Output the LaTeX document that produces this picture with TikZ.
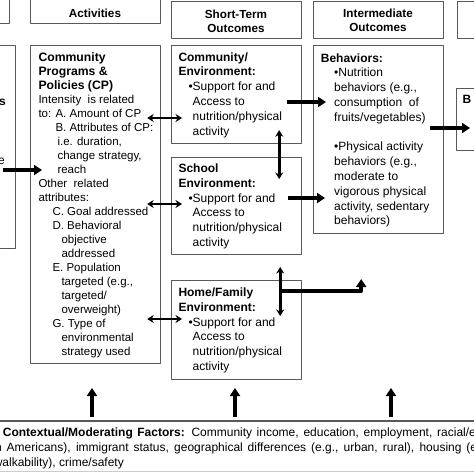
\documentclass[tikz,border=0pt]{standalone}
\usepackage{fontspec}
\setmainfont{Liberation Sans}
\usetikzlibrary{arrows.meta}
\newcommand{\boxlines}[2][l]{\begin{tabular}[t]{@{}#1@{}}#2\end{tabular}}
\newcommand{\cphead}[1]{{\fontsize{12.2}{14}\selectfont\bfseries #1}}
\begin{document}
\begin{tikzpicture}[x=1pt,y=-1pt,line join=round,
	box/.style={draw=black!65,line width=1.2pt,anchor=north west,inner sep=0pt},
	txt/.style={anchor=base west,inner sep=0pt,font=\fontsize{12}{14.8}\selectfont},
	cptxt/.style={txt,font=\fontsize{11.5}{14}\selectfont},
	hdr/.style={anchor=base,inner sep=0pt,font=\fontsize{11.7}{14.4}\selectfont\bfseries},
	bigarrow/.style={line width=3.6pt,-{Triangle[length=8pt,width=10pt]}},
	dblarrow/.style={line width=2.6pt,{Stealth[length=6.5pt,width=8pt]}-{Stealth[length=6.5pt,width=8pt]}}]
	\def\bw{130} % box width
	\useasboundingbox (0,0) rectangle (474,474);
	\clip (0,0) rectangle (474,474);
	% header row
	\node[box,minimum width=19,minimum height=25] (lhead) at (-10,-2) {};
	\node[box,minimum width=\bw,minimum height=25] (acthead) at (30,-2) {};
	\node[box,minimum width=\bw,minimum height=37.5] (sthead) at (171,0.5) {};
	\node[box,minimum width=\bw,minimum height=37.5] (imhead) at (313,0.5) {};
	\node[box,minimum width=40,minimum height=37.5] (rhead) at (457,0.5) {};
	\node[hdr] (acttext) at (95,17.3) {Activities};
	\node[hdr] (sttext) at (236,18.3) {\boxlines[c]{Short-Term\\Outcomes}};
	\node[hdr] (imtext) at (378,17.3) {\boxlines[c]{Intermediate\\Outcomes}};
	% boxes
	\node[box,minimum width=25,minimum height=203] (lbox) at (-10,45) {};
	\node[box,minimum width=\bw,minimum height=318] (cpbox) at (30,45) {};
	\node[box,minimum width=\bw,minimum height=98] (commbox) at (171,45) {};
	\node[box,minimum width=\bw,minimum height=97] (schoolbox) at (171,157) {};
	\node[box,minimum width=\bw,minimum height=99] (homebox) at (171,280) {};
	\node[box,minimum width=\bw,minimum height=188] (behavbox) at (313,45) {};
	\node[box,minimum width=40,minimum height=62] (rbox) at (456,88) {};
	\node[box,draw=black!20,minimum width=514,minimum height=50] (ctxbox) at (-20,421) {};
	\draw[black!65,line width=1.5pt] (ctxbox.north west) -- (ctxbox.north east);
	% texts
	\node[txt,anchor=base east] (ltexta) at (6,105) {\textbf{s}};
	\node[txt,anchor=base east] (ltextb) at (5,164) {e};
	\node[cptxt] (cptext) at (38.3,61) {\boxlines{\cphead{Community}\\\cphead{Programs \&}\\\cphead{Policies (CP)}\\
		Intensity\ \ is related\\to: A. Amount of CP\\\hspace*{17pt}B. Attributes of CP:\\
		\hspace*{19pt}i.e. duration,\\\hspace*{19pt}change strategy,\\\hspace*{19pt}reach\\
		Other\ \ related\\attributes:\\\hspace*{14pt}C. Goal addressed\\\hspace*{14pt}D. Behavioral\\
		\hspace*{23pt}objective\\\hspace*{23pt}addressed\\\hspace*{14pt}E. Population\\
		\hspace*{23pt}targeted (e.g.,\\\hspace*{23pt}targeted/\\\hspace*{23pt}overweight)\\
		\hspace*{14pt}G. Type of\\\hspace*{23pt}environmental\\\hspace*{23pt}strategy used}};
	\node[txt] (commtext) at (178.3,61) {\boxlines{\textbf{Community/}\\\textbf{Environment:}\\
		\hspace*{10pt}\textbullet Support for and\\\hspace*{14.2pt}Access to\\
		\hspace*{14.2pt}nutrition/physical\\\hspace*{14.2pt}activity}};
	\node[txt] (schooltext) at (178.3,172.5) {\boxlines{\textbf{School}\\\textbf{Environment:}\\
		\hspace*{10pt}\textbullet Support for and\\\hspace*{14.2pt}Access to\\
		\hspace*{14.2pt}nutrition/physical\\\hspace*{14.2pt}activity}};
	\node[txt] (hometext) at (178.3,296.5) {\boxlines{\textbf{Home/Family}\\\textbf{Environment:}\\
		\hspace*{10pt}\textbullet Support for and\\\hspace*{14.2pt}Access to\\
		\hspace*{14.2pt}nutrition/physical\\\hspace*{14.2pt}activity}};
	\node[txt] (behavtext) at (320.7,62) {\boxlines{\textbf{Behaviors:}\\\hspace*{13.3pt}\textbullet Nutrition\\
		\hspace*{13.3pt}behaviors (e.g.,\\\hspace*{13.3pt}consumption\ \ of\\\hspace*{13.3pt}fruits/vegetables)\\[14.8pt]
		\hspace*{13.3pt}\textbullet Physical activity\\\hspace*{13.3pt}behaviors (e.g.,\\\hspace*{13.3pt}moderate to\\
		\hspace*{13.3pt}vigorous physical\\\hspace*{13.3pt}activity, sedentary\\\hspace*{13.3pt}behaviors)}};
	\node[txt] (rtext) at (462.5,103) {\textbf{B}};
	\node[txt] (ctxa) at (2.7,436.7) {\makebox[473pt][s]{\textbf{Contextual/Moderating Factors:} Community income, education, employment, racial/e}};
	\node[txt] (ctxb) at (-5,451.7) {\makebox[482pt][s]{n Americans), immigrant status, geographical differences (e.g., urban, rural), housing (e}};
	\node[txt] (ctxc) at (-6.4,466) {walkability), crime/safety};
	% connectors
	\draw[bigarrow] ([shift={(-13,125)}]lbox.north east) -- ([shift={(12,125)}]cpbox.north west);
	\draw[dblarrow] ([shift={(-14,73)}]cpbox.north east) -- ([shift={(11,73)}]commbox.north west);
	\draw[dblarrow] ([shift={(-14,159)}]cpbox.north east) -- ([shift={(11,47)}]schoolbox.north west);
	\draw[dblarrow] ([shift={(-14,274)}]cpbox.north east) -- ([shift={(11,39)}]homebox.north west);
	\draw[bigarrow] ([shift={(-15,57)}]commbox.north east) -- ([shift={(13,57)}]behavbox.north west);
	\draw[dblarrow] ([shift={(-23,-14)}]commbox.south east) -- ([shift={(-23,22)}]schoolbox.north east);
	\draw[bigarrow] ([shift={(-14,41)}]schoolbox.north east) -- ([shift={(12,153)}]behavbox.north west);
	\draw[dblarrow] ([shift={(-22,-13)}]homebox.north east) -- ([shift={(-22,36)}]homebox.north east);
	\draw[bigarrow] ([shift={(-22,11)}]homebox.north east) -| ([shift={(59,-1)}]homebox.north east);
	\draw[bigarrow] ([shift={(-14,83)}]behavbox.north east) -- ([shift={(14,40)}]rbox.north west);
	\foreach \s in {112,255,411}
		\draw[bigarrow] ([shift={(\s,-4)}]ctxbox.north west) -- ++(0,-29);
\end{tikzpicture}
\end{document}
